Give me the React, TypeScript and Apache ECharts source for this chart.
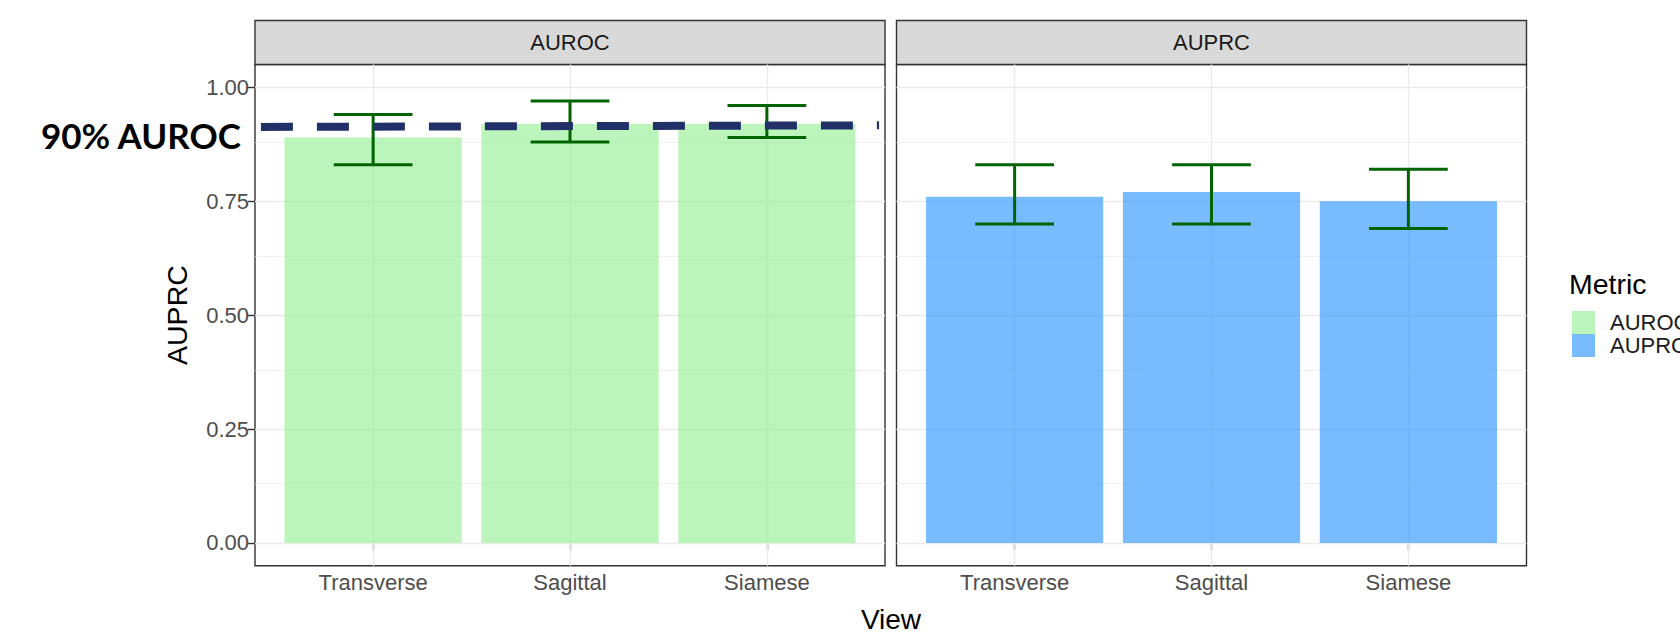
import React, { useEffect, useRef } from "react";
import * as echarts from "echarts";

// ---- data ----
const views = ["Transverse", "Sagittal", "Siamese"];
const panelNames = ["AUROC", "AUPRC"];
const aurocValues = [0.89, 0.92, 0.92];
const aurocLower = [0.83, 0.88, 0.89];
const aurocUpper = [0.94, 0.97, 0.96];
const auprcValues = [0.76, 0.77, 0.75];
const auprcLower = [0.7, 0.7, 0.69];
const auprcUpper = [0.83, 0.83, 0.82];
const yTicks = [0, 0.25, 0.5, 0.75, 1];
const yMinorTicks = [0.125, 0.375, 0.625, 0.875];
const thresholdLabel = "90% AUROC";
const thresholdStart = [0.43, 0.913];
const thresholdEnd = [3.57, 0.9165];

// ---- layout / style ----
const FONT = "'Liberation Sans', Arial, sans-serif";
const PANEL_LEFTS = [255, 896.5];
const PANEL_W = 630;
const PANEL_TOP = 64.5;
const PANEL_H = 501.2;
const STRIP_TOP = 20.5;
const STRIP_H = 44;
const FILLS = ["rgba(144,238,144,0.6)", "rgba(30,144,255,0.6)"];
const ERR_COLOR = "#006400";
const GRID_COLOR = "#EBEBEB";
const BORDER = "#333333";

const xPos = views.map((_, i) => i + 1);

export default function App() {
  const ref = useRef<HTMLDivElement>(null);

  useEffect(() => {
    if (!ref.current) return;
    const chart = echarts.init(ref.current, undefined, { renderer: "svg" });

    const values = [aurocValues, auprcValues];
    const lowers = [aurocLower, auprcLower];
    const uppers = [aurocUpper, auprcUpper];

    const grids = PANEL_LEFTS.map((left) => ({
      left,
      top: PANEL_TOP,
      width: PANEL_W,
      height: PANEL_H,
      show: true,
      borderColor: BORDER,
      borderWidth: 1.4,
      backgroundColor: "transparent",
      containLabel: false,
    }));

    const xAxes = PANEL_LEFTS.map((_, i) => ({
      type: "value",
      gridIndex: i,
      min: 0.4,
      max: 3.6,
      axisLine: { show: false },
      splitLine: { show: false },
      axisTick: {
        show: true,
        customValues: xPos,
        length: 7,
        lineStyle: { color: BORDER, width: 1.4 },
      },
      axisLabel: {
        show: true,
        customValues: xPos,
        formatter: (v: number) => views[Math.round(v) - 1] ?? "",
        fontSize: 22,
        color: "#4D4D4D",
        margin: 6,
        fontFamily: FONT,
      },
    }));

    const yAxes = PANEL_LEFTS.map((_, i) => ({
      type: "value",
      gridIndex: i,
      min: -0.05,
      max: 1.05,
      axisLine: { show: false },
      splitLine: { show: false },
      axisTick: {
        show: i === 0,
        customValues: yTicks,
        length: 7,
        lineStyle: { color: BORDER, width: 1.4 },
      },
      axisLabel: {
        show: i === 0,
        customValues: yTicks,
        formatter: (v: number) => v.toFixed(2),
        fontSize: 22,
        color: "#4D4D4D",
        margin: 6,
        fontFamily: FONT,
      },
    }));

    const series: any[] = [];
    PANEL_LEFTS.forEach((_, i) => {
      // grid lines
      series.push({
        type: "line",
        xAxisIndex: i,
        yAxisIndex: i,
        data: [],
        z: 1,
        silent: true,
        markLine: {
          z: 1,
          silent: true,
          symbol: ["none", "none"],
          label: { show: false },
          emphasis: { disabled: true },
          animation: false,
          data: [
            ...yTicks.map((v) => ({ yAxis: v, lineStyle: { color: GRID_COLOR, width: 1.4, type: "solid" } })),
            ...yMinorTicks.map((v) => ({ yAxis: v, lineStyle: { color: GRID_COLOR, width: 0.7, type: "solid" } })),
            ...xPos.map((v) => ({ xAxis: v, lineStyle: { color: GRID_COLOR, width: 1.4, type: "solid" } })),
          ],
        },
      });
      // bars
      series.push({
        name: panelNames[i],
        type: "bar",
        xAxisIndex: i,
        yAxisIndex: i,
        barWidth: "90%",
        z: 2,
        itemStyle: { color: FILLS[i] },
        data: values[i].map((v, k) => [xPos[k], v]),
      });
      // error bars
      series.push({
        type: "custom",
        xAxisIndex: i,
        yAxisIndex: i,
        z: 3,
        silent: true,
        encode: { x: 0, y: [1, 2] },
        data: values[i].map((_, k) => [xPos[k], lowers[i][k], uppers[i][k]]),
        renderItem: (params: any, api: any) => {
          const x = api.value(0);
          const lo = api.coord([x, api.value(1)]);
          const hi = api.coord([x, api.value(2)]);
          const half = api.size([0.4, 0])[0] / 2;
          const style = { stroke: ERR_COLOR, lineWidth: 3, fill: "none" };
          return {
            type: "group",
            children: [
              { type: "line", shape: { x1: hi[0], y1: hi[1], x2: lo[0], y2: lo[1] }, style },
              { type: "line", shape: { x1: hi[0] - half, y1: hi[1], x2: hi[0] + half, y2: hi[1] }, style },
              { type: "line", shape: { x1: lo[0] - half, y1: lo[1], x2: lo[0] + half, y2: lo[1] }, style },
            ],
          };
        },
      });
    });

    // threshold dashed line (annotation)
    series.push({
      type: "line",
      xAxisIndex: 0,
      yAxisIndex: 0,
      data: [],
      z: 10,
      silent: true,
      markLine: {
        z: 10,
        silent: true,
        symbol: ["none", "none"],
        label: { show: false },
        emphasis: { disabled: true },
        animation: false,
        lineStyle: { color: "#22306A", width: 8, type: [32, 24], cap: "butt" },
        data: [[{ coord: thresholdStart }, { coord: thresholdEnd }]],
      },
    });

    const graphic: any[] = [];
    PANEL_LEFTS.forEach((left, i) => {
      graphic.push({
        type: "rect",
        shape: { x: left, y: STRIP_TOP, width: PANEL_W, height: STRIP_H },
        style: { fill: "#D9D9D9", stroke: BORDER, lineWidth: 1.4 },
        silent: true,
      });
      graphic.push({
        type: "text",
        x: left + PANEL_W / 2,
        y: STRIP_TOP + STRIP_H / 2,
        style: {
          text: panelNames[i],
          fontSize: 22,
          fontFamily: FONT,
          fill: "#1A1A1A",
          align: "center",
          verticalAlign: "middle",
        },
        silent: true,
      });
    });
    graphic.push({
      type: "text",
      x: 177,
      y: PANEL_TOP + PANEL_H / 2,
      rotation: Math.PI / 2,
      style: { text: "AUPRC", fontSize: 28.5, fontFamily: FONT, fill: "#000", align: "center", verticalAlign: "middle" },
      silent: true,
    });
    graphic.push({
      type: "text",
      x: 891,
      y: 619,
      style: { text: "View", fontSize: 28, fontFamily: FONT, fill: "#000", align: "center", verticalAlign: "middle" },
      silent: true,
    });
    graphic.push({
      type: "text",
      x: 1569,
      y: 284,
      style: { text: "Metric", fontSize: 28.5, fontFamily: FONT, fill: "#000", align: "left", verticalAlign: "middle" },
      silent: true,
    });
    graphic.push({
      type: "text",
      x: 41,
      y: 135,
      z: 20,
      style: {
        text: thresholdLabel,
        fontSize: 35,
        fontWeight: "bold",
        fontFamily: "Lato, 'Open Sans', sans-serif",
        fill: "#000",
        align: "left",
        verticalAlign: "middle",
      },
      silent: true,
    });

    chart.setOption({
      animation: false,
      textStyle: { fontFamily: FONT },
      grid: grids,
      xAxis: xAxes,
      yAxis: yAxes,
      legend: {
        data: panelNames,
        orient: "vertical",
        left: 1572,
        top: 311,
        itemWidth: 23,
        itemHeight: 23,
        itemGap: 0,
        icon: "rect",
        selectedMode: false,
        padding: 0,
        textStyle: { fontSize: 22, color: "#1A1A1A", fontFamily: FONT, lineHeight: 23, padding: [0, 0, 0, 10] },
      },
      series,
      graphic,
    });

    return () => chart.dispose();
  }, []);

  return (
    <div
      ref={ref}
      style={{ position: "absolute", left: 0, top: 0, width: 1680, height: 634, background: "#fff" }}
    />
  );
}
